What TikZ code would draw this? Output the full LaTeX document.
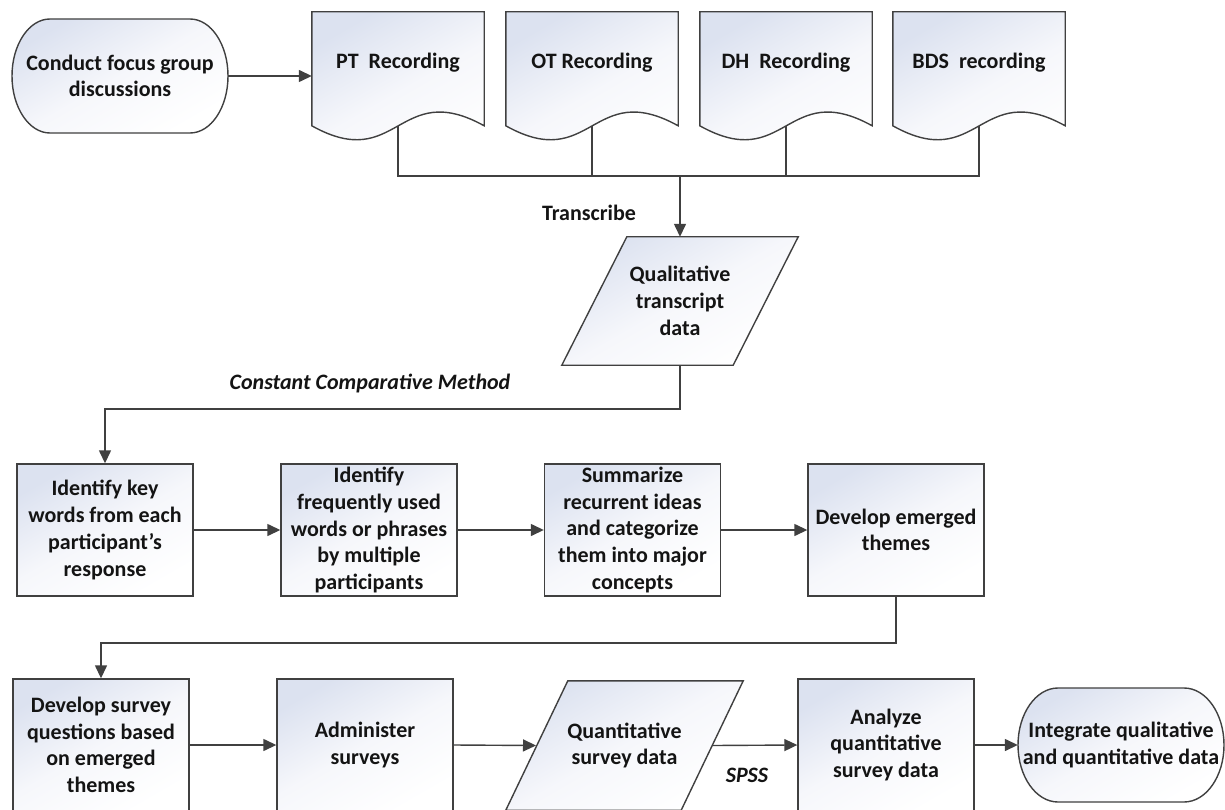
\documentclass[tikz,border=0pt]{standalone}
\usepackage{fontspec}
\setmainfont{Carlito}
\usetikzlibrary{arrows.meta,calc}
\definecolor{linecol}{HTML}{404040}
\definecolor{shadetop}{HTML}{DCE2F0}
\definecolor{shademid}{HTML}{F6F7FB}
\definecolor{txtcol}{HTML}{141414}
\pgfdeclarelayer{bg}
\pgfdeclarelayer{paper}
\pgfsetlayers{paper,bg,main}
\tikzset{
  txt/.style={font=\fontsize{22}{26.7}\selectfont\bfseries, text=txtcol, align=center, inner sep=0pt},
  lbl/.style={font=\fontsize{22}{26.7}\selectfont\bfseries, text=txtcol, inner sep=0pt},
  ilbl/.style={font=\fontsize{22}{26.7}\selectfont\bfseries\itshape, text=txtcol, inner sep=0pt},
  shp/.style={draw=linecol, line width=1.4pt, top color=shadetop, bottom color=white, middle color=shademid, shading angle=30},
  procbox/.style={txt, shp, minimum width=176pt, minimum height=132pt},
  free/.style={txt, minimum width=#1, draw=none},
  conn/.style={draw=linecol, line width=1.4pt},
  arr/.style={conn, -{Triangle[length=13pt,width=12pt]}}
}
\begin{document}
\begin{tikzpicture}[x=1pt,y=-1pt]
\useasboundingbox (0,0) rectangle (1225,810);
\begin{pgfonlayer}{paper}
\fill[white] (0,0) rectangle (1225,810);
\end{pgfonlayer}

% ---------- row 0 ----------
\node[free=216pt, minimum height=114pt] (T1) at (120,76) {Conduct focus group\\discussions};
\node[free=172pt, minimum height=102pt] (PT) at (398,63) {PT\ \ Recording};
\node[free=172pt, minimum height=102pt] (OT) at (592,63) {OT Recording};
\node[free=172pt, minimum height=102pt] (DH) at (786,63) {DH\ \ Recording};
\node[free=172pt, minimum height=102pt] (BDS) at (979,63) {BDS\ \ recording};

\coordinate (PTw) at (398,126);
\coordinate (OTw) at (592,126);
\coordinate (DHw) at (786,126);
\coordinate (BDSw) at (979,126);
\coordinate (J) at (680,176);

\node[free=171pt, minimum height=128pt] (QL) at (680,301) {Qualitative\\transcript\\data};

% ---------- row 1 ----------
\node[procbox] (B1) at (105,530) {Identify key\\words from each\\participant’s\\response};
\node[procbox] (B2) at (369,530) {Identify\\frequently used\\words or phrases\\by multiple\\participants};
\node[procbox] (B3) at (632.5,530) {Summarize\\recurrent ideas\\and categorize\\them into major\\concepts};
\node[procbox] (B4) at (896,530) {Develop emerged\\themes};

% ---------- row 2 ----------
\node[procbox] (C1) at (101,745) {Develop survey\\questions based\\on emerged\\themes};
\node[procbox] (C2) at (365,745) {Administer\\surveys};
\node[free=175pt, minimum height=129pt] (QN) at (624.5,745.5) {Quantitative\\survey data};
\node[procbox] (C4) at (886,745) {Analyze\\quantitative\\survey data};
\node[free=206pt, minimum height=114pt] (T2) at (1121,745) {Integrate qualitative\\and quantitative data};

% ---------- custom shapes ----------
\begin{pgfonlayer}{bg}
% terminators
\path[shp] (50,19) -- (190,19) .. controls (211,19) and (228,44.5) .. (228,76)
  .. controls (228,107.5) and (211,133) .. (190,133) -- (50,133)
  .. controls (29,133) and (12,107.5) .. (12,76)
  .. controls (12,44.5) and (29,19) .. (50,19) -- cycle;
\path[shp] (1058,688) -- (1184,688) .. controls (1206,688) and (1224,713.5) .. (1224,745)
  .. controls (1224,776.5) and (1206,802) .. (1184,802) -- (1058,802)
  .. controls (1036,802) and (1018,776.5) .. (1018,745)
  .. controls (1018,713.5) and (1036,688) .. (1058,688) -- cycle;
% documents
\foreach \n/\c in {PT/398,OT/592,DH/786,BDS/979}{
  \path[shp] (\n.north east) -- (\n.north west) -- ($(\n.north west)+(0,114)$)
    .. controls (\c,174) and (\c,78) .. ($(\n.north east)+(0,114)$) -- cycle;
}
% parallelograms
\path[shp] ([xshift=32.5pt]QL.north west) -- ([xshift=32.5pt]QL.north east)
  -- ([xshift=-32.5pt]QL.south east) -- ([xshift=-32.5pt]QL.south west) -- cycle;
\path[shp] ([xshift=31pt]QN.north west) -- ([xshift=31pt]QN.north east)
  -- ([xshift=-31pt]QN.south east) -- ([xshift=-31pt]QN.south west) -- cycle;
\end{pgfonlayer}

% ---------- connectors ----------
\draw[arr] (T1.east) -- (T1.east -| PT.west);
\draw[conn] (PTw) |- (J) -| (BDSw);
\draw[conn] (OTw) -- (OTw |- J);
\draw[conn] (DHw) -- (DHw |- J);
\draw[arr] (J) -- (QL.north);
\node[lbl] (tr) at (589,213) {Transcribe};

\coordinate (K1) at (680,409);
\draw[arr] (QL.south) -- (K1) -| (B1.north);
\node[ilbl] (ccm) at (370,384) {Constant Comparative Method};

\draw[arr] (B1) -- (B2);
\draw[arr] (B2) -- (B3);
\draw[arr] (B3) -- (B4);

\coordinate (K2) at (896,643);
\draw[arr] (B4.south) -- (K2) -| (C1.north);

\draw[arr] (C1) -- (C2);
\draw[arr] (C2.east) -- ([xshift=-88.5pt]QN.center);
\draw[arr] ([xshift=88.5pt]QN.center) -- (C4.west);
\node[ilbl] (spss) at (747,775) {SPSS};
\draw[arr] (C4) -- (T2);
\end{tikzpicture}
\end{document}
